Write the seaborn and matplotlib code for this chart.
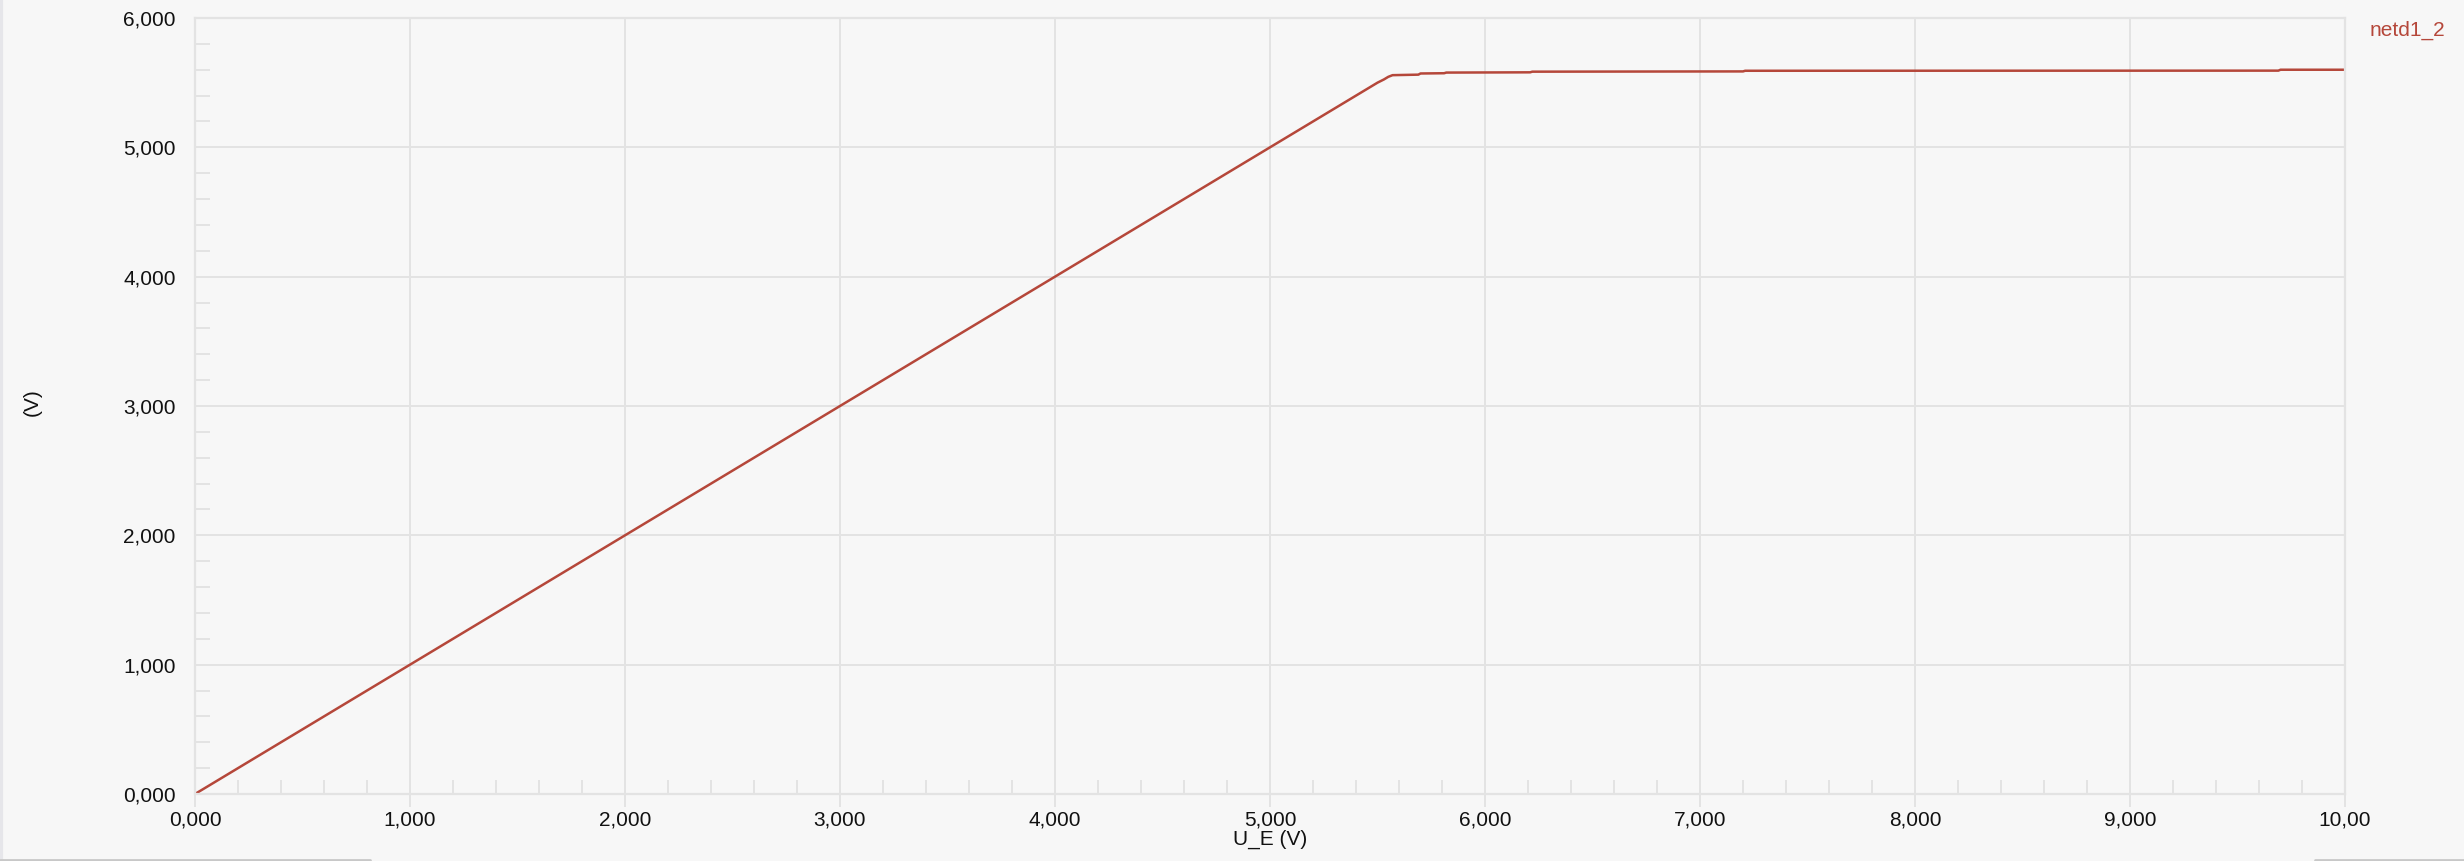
import numpy as np
import pandas as pd
import matplotlib.pyplot as plt
import matplotlib.ticker as mticker
from matplotlib.lines import Line2D
import seaborn as sns

u_e = [0.0, 5.50, 5.53, 5.55, 5.57, 5.69, 5.70, 5.81, 5.82, 6.21, 6.22,
       7.20, 7.21, 9.69, 9.70, 10.0]
netd1_2 = [0.0, 5.50, 5.525, 5.545, 5.558, 5.562, 5.571, 5.573, 5.578,
           5.580, 5.585, 5.587, 5.592, 5.593, 5.600, 5.600]

x_ticks = [0, 1, 2, 3, 4, 5, 6, 7, 8, 9, 10]
x_tick_labels = ["0,000", "1,000", "2,000", "3,000", "4,000", "5,000",
                 "6,000", "7,000", "8,000", "9,000", "10,00"]
y_ticks = [0, 1, 2, 3, 4, 5, 6]
y_tick_labels = ["0,000", "1,000", "2,000", "3,000", "4,000", "5,000", "6,000"]

df = pd.DataFrame({"U_E": u_e, "netd1_2": netd1_2})

sns.set_theme(style="white")
plt.rcParams['font.family'] = ['Liberation Sans', 'DejaVu Sans']

bg = "#f7f7f7"
grid_col = "#e3e3e3"
line_col = "#b5473a"
fs = 15

fig = plt.figure(figsize=(24.64, 8.61), dpi=100, facecolor=bg)
ax = fig.add_axes([195 / 2464, 1 - 794 / 861, 2150 / 2464, 776 / 861])
ax.set_facecolor(bg)

sns.lineplot(data=df, x="U_E", y="netd1_2", ax=ax, color=line_col,
             linewidth=1.8, sort=False)

ax.set_xlim(0, 10)
ax.set_ylim(0, 6)
ax.set_xticks(x_ticks)
ax.set_xticklabels(x_tick_labels)
ax.set_yticks(y_ticks)
ax.set_yticklabels(y_tick_labels)
ax.xaxis.set_minor_locator(mticker.AutoMinorLocator(5))
ax.yaxis.set_minor_locator(mticker.AutoMinorLocator(5))

ax.grid(True, which="major", color=grid_col, linewidth=1.4)
for s in ax.spines.values():
    s.set_color(grid_col)
    s.set_linewidth(1.6)

ax.tick_params(axis="x", which="major", bottom=True, direction="out",
               length=9, width=1.4, color=grid_col, labelsize=fs,
               labelcolor="#111111", pad=3)
ax.tick_params(axis="y", which="major", left=True, length=0, labelsize=fs,
               labelcolor="#111111", pad=14)
ax.tick_params(axis="x", which="minor", bottom=True, direction="in",
               length=10, width=1.4, color=grid_col)
ax.tick_params(axis="y", which="minor", left=True, direction="in",
               length=11, width=1.4, color=grid_col)

ax.set_xlabel("U_E (V)", fontsize=fs, color="#111111", labelpad=0)
ax.set_ylabel("")
fig.text(32 / 2464, 1 - 402 / 861, "(V)", rotation=90, fontsize=fs,
         color="#111111", ha="center", va="center")

# trace name in the upper right corner
fig.text(2370 / 2464, 1 - 30 / 861, "netd1_2", fontsize=fs, color=line_col,
         ha="left", va="center")

# window frame bits
fig.add_artist(Line2D([0.0006, 0.0006], [0, 1], color="#e6e6ea", linewidth=3,
                      transform=fig.transFigure))
fig.add_artist(Line2D([0, 370 / 2464], [0.001, 0.001], color="#c8c8c8",
                      linewidth=2, transform=fig.transFigure))
fig.add_artist(Line2D([2315 / 2464, 1], [0.001, 0.001], color="#c8c8c8",
                      linewidth=2, transform=fig.transFigure))

fig.savefig("out.png", dpi=100, facecolor=bg)
